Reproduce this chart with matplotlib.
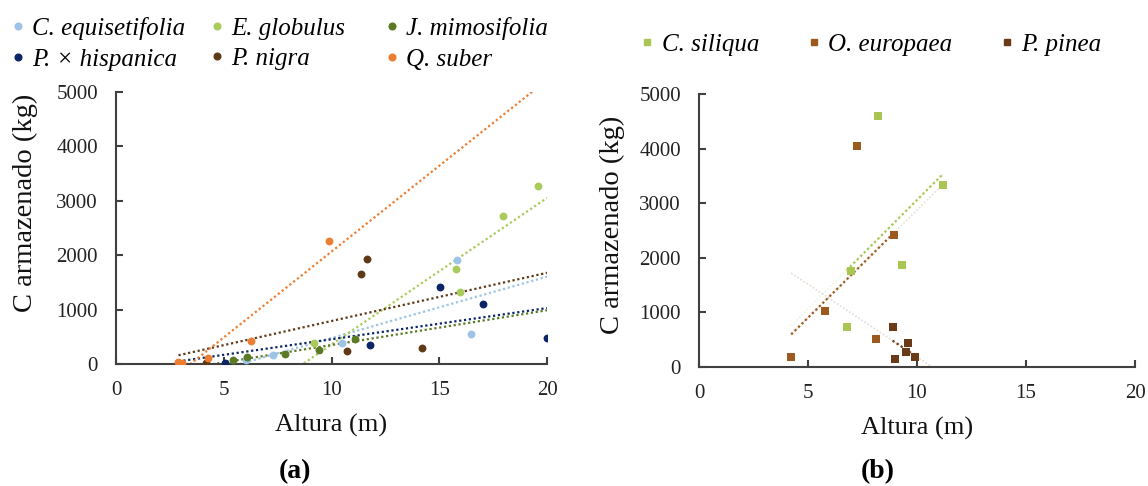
import matplotlib
matplotlib.use('Agg')
import matplotlib.pyplot as plt
from matplotlib.lines import Line2D
import numpy as np

plt.rcParams['font.family'] = ['Liberation Serif', 'DejaVu Serif']

# ---------------- data: panel (a) ----------------
names_a = ['C. equisetifolia', 'E. globulus', 'J. mimosifolia',
           'P. × hispanica', 'P. nigra', 'Q. suber']
colors_a = ['#9DC3E6', '#A9CB5B', '#5B7A24', '#0B2566', '#5E3A18', '#ED7D31']
ce_x = [6.03, 7.27, 10.48, 15.81, 16.48]
ce_y = [74, 165, 380, 1911, 546]
eg_x = [9.17, 15.77, 15.94, 17.98, 19.57]
eg_y = [386, 1741, 1324, 2721, 3278]
jm_x = [5.41, 6.06, 7.85, 9.42, 11.07]
jm_y = [68, 120, 184, 257, 466]
ph_x = [5.06, 11.78, 15.04, 17.02, 20.0]
ph_y = [13, 349, 1415, 1108, 472]
pn_x = [4.16, 10.71, 11.37, 11.65, 14.2]
pn_y = [24, 239, 1654, 1930, 288]
qs_x = [2.9, 3.05, 4.29, 6.25, 9.87]
qs_y = [45, 15, 110, 430, 2270]
series_a = [(ce_x, ce_y), (eg_x, eg_y), (jm_x, jm_y),
            (ph_x, ph_y), (pn_x, pn_y), (qs_x, qs_y)]

# ---------------- data: panel (b) ----------------
names_b = ['C. siliqua', 'O. europaea', 'P. pinea']
colors_b = ['#A9C653', '#9C5A1F', '#6B3A16']
cs_x = [6.77, 6.95, 8.23, 9.30, 11.21]
cs_y = [738, 1758, 4597, 1868, 3327]
oe_x = [4.23, 5.77, 7.23, 8.12, 8.94]
oe_y = [178, 1026, 4053, 507, 2412]
pp_x = [8.88, 8.99, 9.48, 9.60, 9.89]
pp_y = [738, 146, 269, 434, 178]
series_b = [(cs_x, cs_y), (oe_x, oe_y), (pp_x, pp_y)]

x_ticks = [0, 5, 10, 15, 20]
y_ticks = [0, 1000, 2000, 3000, 4000, 5000]

W, H = 1148, 486
fig = plt.figure(figsize=(W / 100, H / 100), dpi=100)

ax_a = fig.add_axes([116 / W, 1 - 364 / H, (547 - 116) / W, (364 - 92) / H])
ax_b = fig.add_axes([699 / W, 1 - 367 / H, (1135 - 699) / W, (367 - 94) / H])

dot = (0, (1, 1.2))
spine_c = '#404040'


def style(ax, ylab_x, ylab_y):
    ax.set_xlim(0, 20)
    ax.set_ylim(0, 5000)
    ax.set_xticks(x_ticks)
    ax.set_yticks(y_ticks)
    for s in ['top', 'right']:
        ax.spines[s].set_visible(False)
    for s in ['left', 'bottom']:
        ax.spines[s].set_color(spine_c)
        ax.spines[s].set_linewidth(1.5)
    ax.tick_params(axis='both', direction='in', length=5, width=1.5,
                   color=spine_c, labelsize=15, labelcolor='#222222')
    ax.tick_params(axis='y', pad=13)
    ax.tick_params(axis='x', pad=12)
    ax.set_xlabel('Altura (m)', fontsize=19, color='#111111')
    ax.set_ylabel('C armazenado (kg)', fontsize=20.5, color='#111111')
    ax.xaxis.label.set_va('center')
    ax.yaxis.label.set_va('center')
    ax.xaxis.set_label_coords(0.5, -(425 - 364) / 272)
    ax.yaxis.set_label_coords(ylab_x, ylab_y)


# panel (a)
allx_a = np.concatenate([np.array(s[0]) for s in series_a])
xl = np.array([allx_a.min(), allx_a.max()])
for (xs, ys), c in zip(series_a, colors_a):
    k, b = np.polyfit(xs, ys, 1)
    ax_a.plot(xl, k * xl + b, linestyle=dot, color=c, lw=1.6, zorder=2)
for (xs, ys), c in zip(series_a, colors_a):
    ax_a.scatter(xs, ys, s=32, color=c, zorder=3, linewidths=0)
style(ax_a, (25 - 116) / 431, (364 - 203) / 272)

# panel (b)
allx_b = np.concatenate([np.array(s[0]) for s in series_b])
xr = np.linspace(allx_b.min(), allx_b.max(), 50)
for (xs, ys), c in zip(series_b, colors_b):
    k, b = np.polyfit(xs, ys, 1)
    ax_b.plot(xr, k * xr + b, linestyle=dot, color=c, lw=1.2, alpha=0.18, zorder=2)
    xo = np.linspace(min(xs), max(xs), 20)
    ax_b.plot(xo, k * xo + b, linestyle=dot, color=c, lw=1.6, zorder=2)
for (xs, ys), c in zip(series_b, colors_b):
    ax_b.scatter(xs, ys, s=36, marker='s', color=c, zorder=3, linewidths=0)
style(ax_b, (612 - 699) / 436, (367 - 225) / 273)

# legends panel (a): one legend per column
fs = 18
col_x = [12, 211, 386]
for ci in range(3):
    hs = []
    for ri in range(2):
        i = ri * 3 + ci
        hs.append(Line2D([], [], marker='o', linestyle='none', color=colors_a[i],
                         markersize=4.8, label=names_a[i]))
    fig.legend(handles=hs, loc='upper left',
               bbox_to_anchor=(col_x[ci] / W, 1 - 17 / H),
               frameon=False, borderpad=0, borderaxespad=0,
               handlelength=0.5, handletextpad=0.32, labelspacing=0.33,
               prop={'style': 'italic', 'size': fs})

# legend panel (b)
hb = [Line2D([], [], marker='s', linestyle='none', color=c, markersize=4.8, label=n)
      for n, c in zip(names_b, colors_b)]
fig.legend(handles=hb, loc='upper left', bbox_to_anchor=(641 / W, 1 - 33 / H),
           ncol=3, frameon=False, borderpad=0, borderaxespad=0,
           handlelength=0.5, handletextpad=0.32, columnspacing=1.95,
           prop={'style': 'italic', 'size': fs})

fig.text(295 / W, 1 - 472 / H, '(a)', fontsize=20, fontweight='bold',
         ha='center', va='center')
fig.text(878 / W, 1 - 472 / H, '(b)', fontsize=20, fontweight='bold',
         ha='center', va='center')

fig.savefig('out.png', dpi=100)
